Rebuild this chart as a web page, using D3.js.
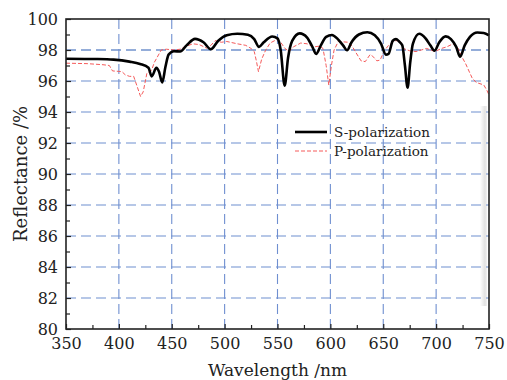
<!DOCTYPE html>
<html>
<head>
<meta charset="utf-8">
<script src="https://cdn.jsdelivr.net/npm/d3@7"></script>
<style>
    body { margin: 0; background: #fff; }
    text { font-family: "DejaVu Serif", serif; fill: #222; }
</style>
</head>
<body>
<script>
// S-polarization (wavelength nm, reflectance %)
var sWave = [350, 380, 395, 410, 420, 428, 431, 435.5, 438, 441, 444, 447, 452, 458, 464, 472, 480, 487, 494, 502, 512, 522, 528, 532.5, 537, 545, 550, 553, 556.8, 560, 564, 571, 578, 583, 586.5, 591, 596, 601.5, 607, 612, 615.8, 620, 627, 635, 642, 648, 652.5, 655, 659, 662, 665, 668, 670.5, 673, 675.5, 678, 684, 690, 694.5, 698.5, 703, 709, 714, 719, 722.7, 727, 732, 739, 745, 750];
var sRefl = [97.44, 97.42, 97.38, 97.25, 97.1, 96.85, 96.3, 96.85, 96.6, 95.9, 96.9, 97.7, 97.92, 97.9, 98.3, 98.72, 98.5, 98.05, 98.6, 98.95, 99.05, 98.98, 98.7, 98.2, 98.5, 98.87, 98.75, 98.0, 95.7, 97.5, 98.6, 99.07, 98.8, 98.2, 97.75, 98.3, 98.85, 98.97, 98.7, 98.3, 97.98, 98.5, 99.0, 99.15, 98.95, 98.4, 97.7, 97.75, 98.6, 98.7, 98.55, 98.3, 97.0, 95.57, 97.2, 98.4, 99.05, 98.75, 98.3, 97.95, 98.5, 98.88, 98.7, 98.2, 97.57, 98.3, 98.85, 99.13, 99.1, 98.95];

// P-polarization
var pWave = [350, 370, 385, 391, 394, 400, 403, 406, 410, 414, 417, 420.5, 423, 426.5, 431, 433.5, 436, 440, 445, 452, 458, 462, 470, 476, 483, 487, 491, 497, 502, 512, 520, 525, 528, 530, 532, 535, 538.5, 543, 550, 553, 557, 561, 565, 572, 578, 584, 590, 593, 596, 598.5, 601, 603.5, 607.5, 617, 621, 624, 629, 633, 637.5, 640, 644, 647, 651, 655, 661, 666, 669, 675, 681, 686, 691, 699, 705, 710, 716, 721, 724, 728, 734, 738, 745, 748, 750];
var pRefl = [97.15, 97.12, 97.05, 97.0, 96.65, 96.62, 96.6, 96.4, 96.3, 96.3, 95.7, 95.0, 95.3, 96.5, 96.7, 97.2, 97.5, 98.0, 98.05, 98.0, 98.05, 98.2, 98.4, 98.35, 98.12, 98.3, 98.6, 98.5, 98.55, 98.4, 98.3, 98.1, 97.9, 97.3, 96.6, 97.4, 97.95, 98.45, 98.7, 98.5, 98.1, 97.9, 98.2, 98.45, 98.4, 98.2, 98.25, 98.1, 97.0, 95.74, 97.0, 98.0, 98.55, 98.5, 98.2, 97.85, 97.3, 97.25, 97.7, 97.6, 97.3, 97.35, 97.95, 98.3, 98.6, 98.6, 98.1, 97.95, 97.9, 98.0, 98.1, 97.9, 98.1, 98.2, 98.4, 98.1, 97.6, 97.1, 96.2, 95.9, 95.75, 95.4, 95.1];

var xTicks = [350, 400, 450, 500, 550, 600, 650, 700, 750];
var yTicks = [80, 82, 84, 86, 88, 90, 92, 94, 96, 98, 100];
var seriesNames = ['S-polarization', 'P-polarization'];

var width = 507, height = 380;
var pLeft = 66, pRight = 489, pTop = 19, pBottom = 329;

var svg = d3.select('body').append('svg')
    .attr('width', width)
    .attr('height', height);

var xScale = d3.scaleLinear().domain([350, 750]).range([pLeft, pRight]);
var yScale = d3.scaleLinear().domain([80, 100]).range([pBottom, pTop]);

// 右側陰影
var grad = svg.append('defs').append('linearGradient').attr('id', 'shade');
grad.append('stop').attr('offset', '0%').attr('stop-color', '#fff');
grad.append('stop').attr('offset', '70%').attr('stop-color', '#e2e2e2');
grad.append('stop').attr('offset', '100%').attr('stop-color', '#f2f2f2');
svg.append('rect')
    .attr('x', pRight - 9).attr('y', 106)
    .attr('width', 7).attr('height', 200)
    .attr('fill', 'url(#shade)');

// grid
svg.append('g').selectAll('line')
    .data(yTicks.filter(function(d){ return d > 80 && d < 100; }))
    .enter().append('line')
    .attr('x1', pLeft).attr('x2', pRight)
    .attr('y1', function(d){ return yScale(d); })
    .attr('y2', function(d){ return yScale(d); })
    .attr('stroke', function(d){ return d === 98 ? '#2a5cb4' : '#6f8fd0'; })
    .attr('stroke-width', 1.1)
    .attr('stroke-dasharray', '10,5');

svg.append('g').selectAll('line')
    .data(xTicks.filter(function(d){ return d > 350 && d < 750; }))
    .enter().append('line')
    .attr('x1', function(d){ return xScale(d); })
    .attr('x2', function(d){ return xScale(d); })
    .attr('y1', pTop).attr('y2', pBottom)
    .attr('stroke', '#6f8fd0')
    .attr('stroke-width', 1.1)
    .attr('stroke-dasharray', '10,5');

// curves
var sData = sWave.map(function(w, i){ return {w: w, r: sRefl[i]}; });
var pData = pWave.map(function(w, i){ return {w: w, r: pRefl[i]}; });

svg.append('path')
    .datum(pData)
    .attr('fill', 'none')
    .attr('stroke', '#f55a5a')
    .attr('stroke-width', 1)
    .attr('stroke-dasharray', '4,2')
    .attr('d', d3.line()
        .x(function(d){ return xScale(d.w); })
        .y(function(d){ return yScale(d.r); }));

svg.append('path')
    .datum(sData)
    .attr('fill', 'none')
    .attr('stroke', '#000')
    .attr('stroke-width', 2.6)
    .attr('stroke-linejoin', 'round')
    .attr('d', d3.line()
        .curve(d3.curveMonotoneX)
        .x(function(d){ return xScale(d.w); })
        .y(function(d){ return yScale(d.r); }));

// axes (ticks inside)
var xAxis = d3.axisBottom(xScale).tickValues(xTicks).tickSize(-5).tickPadding(9);
var yAxis = d3.axisLeft(yScale).tickValues(yTicks).tickSize(-5).tickPadding(8);
var xMinor = d3.axisBottom(xScale).tickValues(d3.range(375, 750, 50)).tickSize(-4).tickFormat('');
var yMinor = d3.axisLeft(yScale).tickValues(d3.range(81, 100, 2)).tickSize(-4).tickFormat('');

var gx = svg.append('g').attr('transform', 'translate(0,' + pBottom + ')').call(xAxis);
svg.append('g').attr('transform', 'translate(0,' + pBottom + ')').call(xMinor);
var gy = svg.append('g').attr('transform', 'translate(' + pLeft + ',0)').call(yAxis);
svg.append('g').attr('transform', 'translate(' + pLeft + ',0)').call(yMinor);

svg.selectAll('.domain').remove();
svg.selectAll('.tick line').attr('stroke', '#222').attr('stroke-width', 1.2);
gx.selectAll('text').style('font-size', '16px').style('font-family', '"DejaVu Serif", serif').attr('fill', '#222');
gy.selectAll('text').style('font-size', '16px').style('font-family', '"DejaVu Serif", serif').attr('fill', '#222');

// frame
svg.append('rect')
    .attr('x', pLeft).attr('y', pTop)
    .attr('width', pRight - pLeft).attr('height', pBottom - pTop)
    .attr('fill', 'none')
    .attr('stroke', '#222')
    .attr('stroke-width', 1.6);

// axis titles
svg.append('text')
    .attr('x', (pLeft + pRight) / 2).attr('y', 376)
    .attr('text-anchor', 'middle')
    .style('font-size', '17px')
    .text('Wavelength /nm');

svg.append('text')
    .attr('transform', 'translate(27,' + ((pTop + pBottom) / 2) + ') rotate(-90)')
    .attr('text-anchor', 'middle')
    .style('font-size', '18px')
    .text('Reflectance /%');

// legend
var legend = svg.append('g');
legend.append('line')
    .attr('x1', 295).attr('x2', 327).attr('y1', 132).attr('y2', 132)
    .attr('stroke', '#000').attr('stroke-width', 2.6);
legend.append('line')
    .attr('x1', 295).attr('x2', 327).attr('y1', 151).attr('y2', 151)
    .attr('stroke', '#f55a5a').attr('stroke-width', 1).attr('stroke-dasharray', '4,2');
legend.append('text').attr('x', 334).attr('y', 136.5)
    .style('font-size', '13.5px').text(seriesNames[0]);
legend.append('text').attr('x', 334).attr('y', 155.5)
    .style('font-size', '13.5px').text(seriesNames[1]);
</script>
</body>
</html>
